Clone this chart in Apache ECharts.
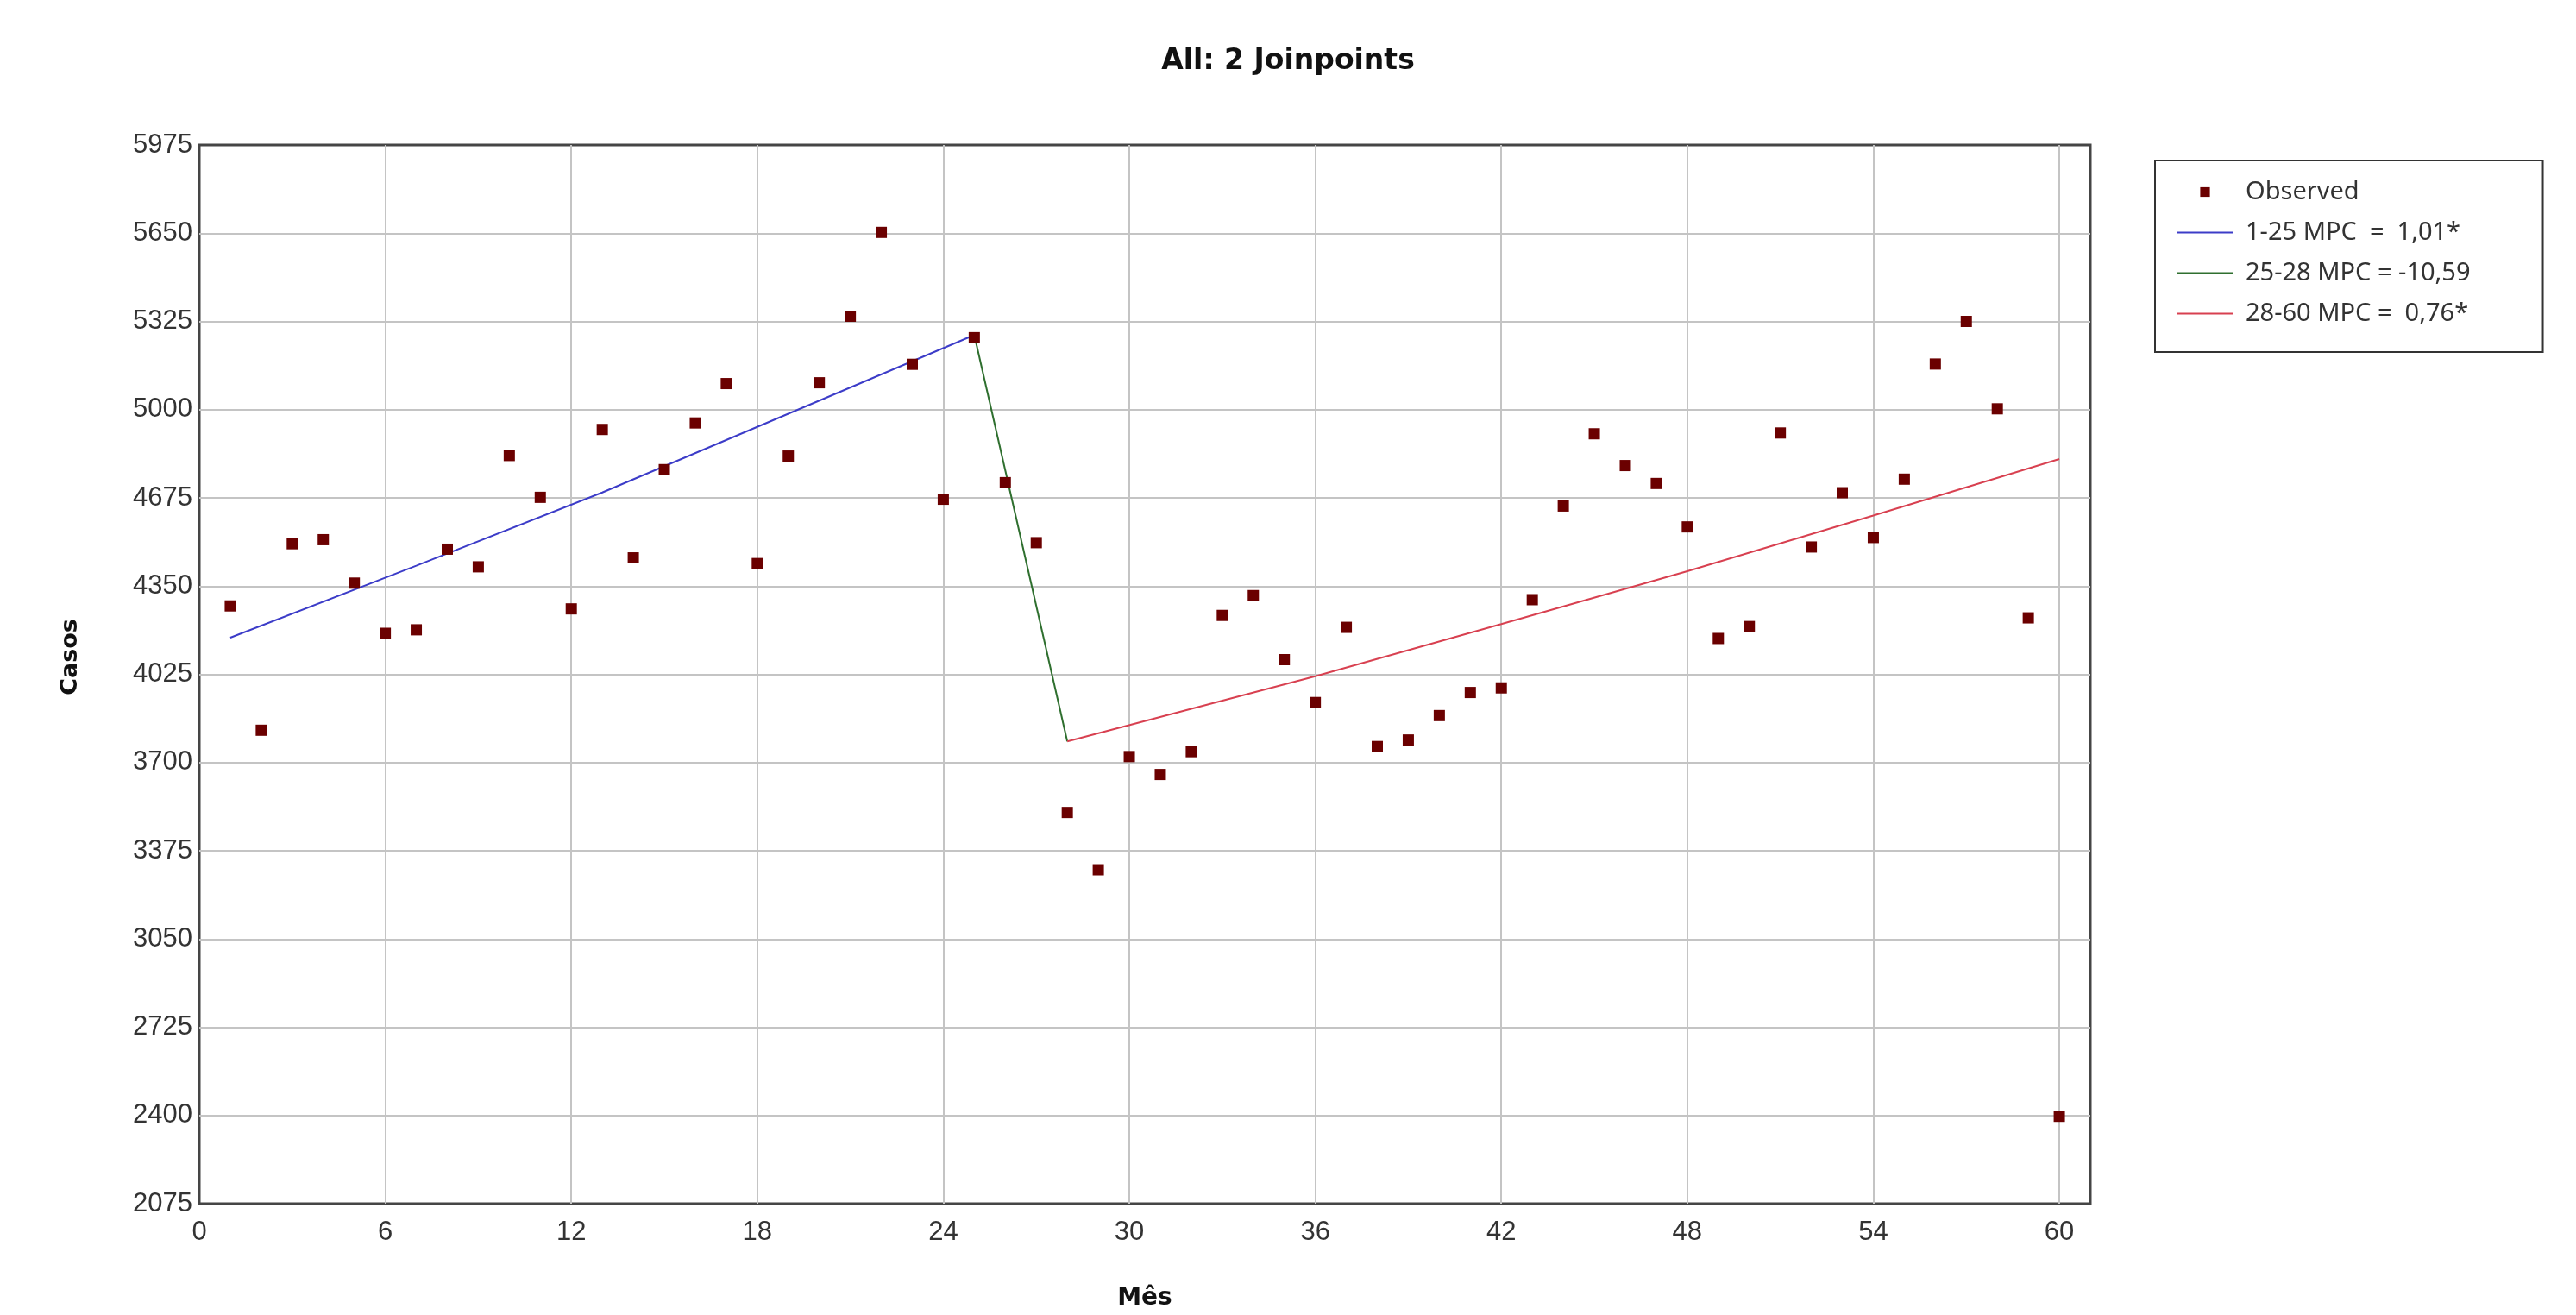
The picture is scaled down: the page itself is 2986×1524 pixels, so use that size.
<!DOCTYPE html>
<html>
<head>
<meta charset="utf-8">
<script src="https://cdn.jsdelivr.net/npm/echarts@6/dist/echarts.min.js"></script>
<style>
html,body{margin:0;padding:0;background:#fff;}
#chart{width:2986px;height:1524px;}
</style>
</head>
<body>
<div id="chart"></div>
<script>
// ---- data ----
const titleText = 'All: 2 Joinpoints';
const xAxisName = 'Mês';
const yAxisName = 'Casos';

const months = [1,2,3,4,5,6,7,8,9,10,11,12,13,14,15,16,17,18,19,20,21,22,23,24,25,26,27,28,29,30,31,32,33,34,35,36,37,38,39,40,41,42,43,44,45,46,47,48,49,50,51,52,53,54,55,56,57,58,59,60];
const observed = [4277,3819,4506,4521,4361,4176,4189,4486,4421,4831,4677,4266,4927,4454,4779,4951,5096,4433,4829,5099,5344,5653,5167,4670,5265,4731,4510,3516,3305,3722,3656,3740,4242,4315,4079,3921,4198,3759,3783,3873,3958,3975,4300,4645,4911,4794,4728,4568,4157,4201,4914,4494,4694,4529,4744,5168,5325,5003,4233,2397];

// fitted segments
const seg1Months = [1, 7, 13, 19, 25];
const seg1Values = [4160, 4425, 4695, 4985, 5275];
const seg2Months = [25, 28];
const seg2Values = [5275, 3778];
const seg3Months = [28, 36, 42, 48, 54, 60];
const seg3Values = [3778, 4018, 4210, 4405, 4610, 4818];

const seriesNames = ['Observed', '1-25 MPC  =  1,01*', '25-28 MPC = -10,59', '28-60 MPC =  0,76*'];

const xMin = 0, xMax = 61, xInterval = 6;
const yMin = 2075, yMax = 5975, yInterval = 325;

// ---- build ----
const zip = (a, b) => a.map((v, i) => [v, b[i]]);
const colors = { obs: '#6b0000', blue: '#3c3cc8', green: '#2f6f2f', red: '#d84050' };

const chart = echarts.init(document.getElementById('chart'), null, { renderer: 'canvas' });
const tickFont = 'Liberation Sans, Arial, sans-serif';
const boldFont = 'DejaVu Sans, Verdana, sans-serif';

chart.setOption({
  backgroundColor: '#ffffff',
  animation: false,
  title: {
    text: titleText,
    left: 'center',
    top: 50,
    textStyle: { fontFamily: boldFont, fontWeight: 'bold', fontSize: 33, color: '#111' }
  },
  grid: {
    left: 231, right: 563, top: 168, bottom: 127,
    show: true, borderColor: '#454545', borderWidth: 3, backgroundColor: '#fff'
  },
  legend: {
    orient: 'vertical',
    left: 2498, top: 186,
    padding: [22, 84, 30, 25],
    borderColor: '#333', borderWidth: 2,
    itemWidth: 64, itemHeight: 14, itemGap: 18,
    textStyle: { fontFamily: 'Noto Sans, Open Sans, sans-serif', fontSize: 29, color: '#333', padding: [0, 0, 0, 10] },
    data: [
      { name: seriesNames[0], lineStyle: { opacity: 0, width: 0 } },
      { name: seriesNames[1], itemStyle: { opacity: 0 } },
      { name: seriesNames[2], itemStyle: { opacity: 0 } },
      { name: seriesNames[3], itemStyle: { opacity: 0 } }
    ]
  },
  xAxis: {
    type: 'value', min: xMin, max: xMax, interval: xInterval,
    name: xAxisName, nameLocation: 'middle', nameGap: 96,
    nameTextStyle: { fontFamily: boldFont, fontWeight: 'bold', fontSize: 28, color: '#111' },
    axisLine: { show: false }, axisTick: { show: false },
    axisLabel: {
      margin: 18, fontFamily: tickFont, fontSize: 31, color: '#333',
      formatter: v => (v % xInterval === 0 ? String(v) : '')
    },
    splitLine: { show: true, showMinLine: false, showMaxLine: false, lineStyle: { color: '#c4c4c4', width: 2 } }
  },
  yAxis: {
    type: 'value', min: yMin, max: yMax, interval: yInterval,
    name: yAxisName, nameLocation: 'middle', nameGap: 136, nameRotate: 90,
    nameTextStyle: { fontFamily: boldFont, fontWeight: 'bold', fontSize: 27, color: '#111', padding: [0, 0, 0, 40] },
    axisLine: { show: false }, axisTick: { show: false },
    axisLabel: { margin: 8, fontFamily: tickFont, fontSize: 31, color: '#333', formatter: v => String(v) },
    splitLine: { show: true, showMinLine: false, showMaxLine: false, lineStyle: { color: '#c4c4c4', width: 2 } }
  },
  series: [
    {
      name: seriesNames[1], type: 'line', data: zip(seg1Months, seg1Values),
      symbol: 'none', color: colors.blue, lineStyle: { color: colors.blue, width: 2 }, z: 3
    },
    {
      name: seriesNames[2], type: 'line', data: zip(seg2Months, seg2Values),
      symbol: 'none', color: colors.green, lineStyle: { color: colors.green, width: 2 }, z: 3
    },
    {
      name: seriesNames[3], type: 'line', data: zip(seg3Months, seg3Values),
      symbol: 'none', color: colors.red, lineStyle: { color: colors.red, width: 2 }, z: 3
    },
    {
      name: seriesNames[0], type: 'line', data: zip(months, observed),
      symbol: 'rect', symbolSize: 13, showSymbol: true, showAllSymbol: true,
      color: colors.obs, itemStyle: { color: colors.obs },
      lineStyle: { opacity: 0, width: 0 }, z: 4
    }
  ]
});
</script>
</body>
</html>
